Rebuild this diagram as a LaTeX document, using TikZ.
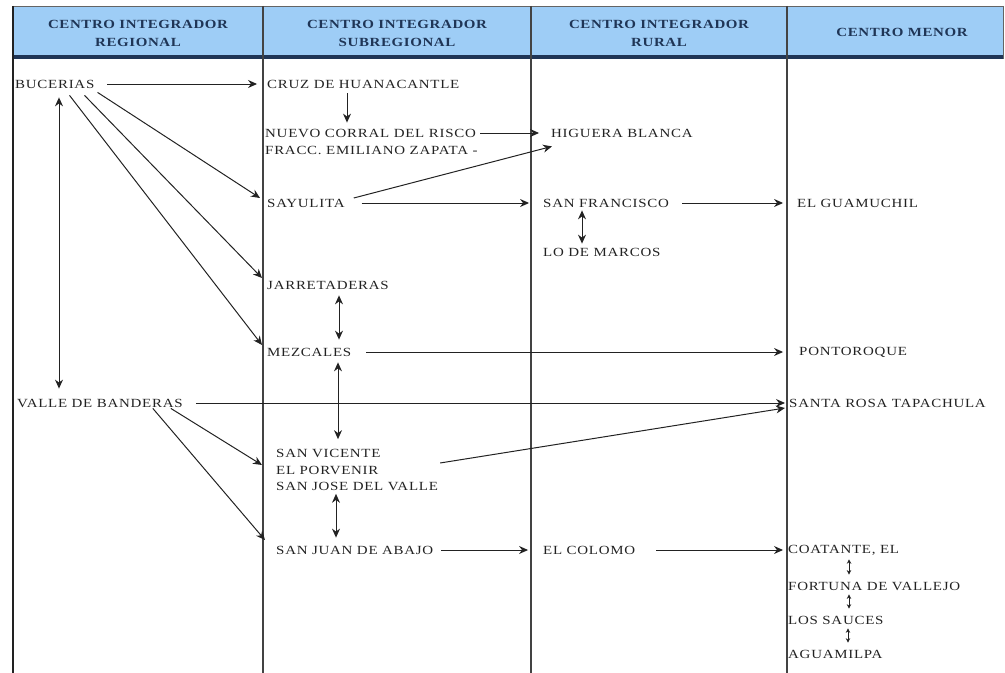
\documentclass[tikz,border=0pt]{standalone}
\usepackage{fontspec}
\setmainfont{Liberation Serif}
\newfontfamily\placefont[FakeStretch=1.2,LetterSpace=6]{Liberation Serif}
\newfontfamily\headfont[FakeStretch=1.2,LetterSpace=5]{Liberation Serif}
\usetikzlibrary{arrows.meta,calc}
\definecolor{hdrblue}{HTML}{9ECDF6}
\definecolor{navy}{HTML}{1F3556}
\definecolor{ink}{HTML}{222222}
\tikzset{
  lab/.style={text=ink, anchor=west, inner sep=1pt, align=left, font=\placefont\fontsize{12.5}{16.5}\selectfont},
  toplab/.style={text=navy, align=center, font=\headfont\bfseries\fontsize{12.5}{18}\selectfont},
  flow/.style={-{Stealth[length=9pt,width=8pt]}, ink, line width=1pt},
  twoway/.style={{Stealth[length=9pt,width=8pt]}-{Stealth[length=9pt,width=8pt]}, ink, line width=1pt},
  smallway/.style={{Stealth[length=4.5pt,width=4.5pt]}-{Stealth[length=4.5pt,width=4.5pt]}, ink, line width=0.9pt},
  colline/.style={draw=ink!85, line width=1.4pt},
}

\begin{document}
\begin{tikzpicture}[x=1bp,y=-1bp]
  \useasboundingbox (0,0) rectangle (1005,673);

  % header band
  \fill[hdrblue] (13,6) rectangle (1003,55);
  \fill[navy] (13,55) rectangle (1003,59);
  \draw[ink!70, line width=0.8pt] (13,6) -- (1003,6) -- (1003,59);
  \draw[ink, line width=2.2pt] (13,6) -- (13,673);
  \foreach \cx in {263,531,787}{
    \draw[colline] (\cx,6) -- (\cx,673);
  }
  \node[toplab] (h1) at (138,33) {CENTRO INTEGRADOR\\REGIONAL};
  \node[toplab] (h2) at (397,33) {CENTRO INTEGRADOR\\SUBREGIONAL};
  \node[toplab] (h3) at (659,33) {CENTRO INTEGRADOR\\RURAL};
  \node[toplab] (h4) at (902,32) {CENTRO MENOR};

  % places
  \node[lab] (buc) at (14,84) {BUCERIAS};
  \node[lab] (valle) at (16,403) {VALLE DE BANDERAS};
  \node[lab] (cruz) at (266,84) {CRUZ DE HUANACANTLE};
  \node[lab] (nuevo) at (264,133) {NUEVO CORRAL DEL RISCO};
  \node[lab] (fracc) at (264,150) {FRACC. EMILIANO ZAPATA -};
  \node[lab] (say) at (266,203) {SAYULITA};
  \node[lab] (jarr) at (266,285) {JARRETADERAS};
  \node[lab] (mez) at (266,352) {MEZCALES};
  \node[lab] (sanv) at (275,470) {SAN VICENTE\\EL PORVENIR\\SAN JOSE DEL VALLE};
  \node[lab] (sanj) at (275,550) {SAN JUAN DE ABAJO};
  \node[lab] (hig) at (550,133) {HIGUERA BLANCA};
  \node[lab] (sanf) at (542,203) {SAN FRANCISCO};
  \node[lab] (lodm) at (542,252) {LO DE MARCOS};
  \node[lab] (colomo) at (542,550) {EL COLOMO};
  \node[lab] (guam) at (796,203) {EL GUAMUCHIL};
  \node[lab] (pont) at (798,352) {PONTOROQUE};
  \node[lab] (santa) at (788,403) {SANTA ROSA TAPACHULA};
  \node[lab] (coat) at (787,550) {COATANTE, EL};
  \node[lab] (fort) at (787,586) {FORTUNA DE VALLEJO};
  \node[lab] (sauc) at (787,620) {LOS SAUCES};
  \node[lab] (agua) at (787,654) {AGUAMILPA};

  % links from Bucerias
  \draw[flow, shorten <=12pt, shorten >=9pt] (buc.east) -- (cruz.west);
  \draw[flow] ($(buc.south east)+(2,3)$) -- ($(say.west)+(-6,-5)$);
  \draw[flow] ($(buc.south east)+(-11,6)$) -- ($(jarr.west)+(-4,-7)$);
  \draw[flow] ($(buc.south east)+(-26,6)$) -- ($(mez.west)+(-4,-7)$);
  \draw[twoway] ($(buc.south west)+(45,8)$) -- ($(valle.north west)+(43,-9)$);

  % subregional column
  \draw[flow] ($(cruz.south west)+(81,4)$) -- ($(nuevo.north west)+(83,-5)$);
  \draw[flow, shorten <=3pt, shorten >=11pt] (nuevo.east) -- (hig.west);
  \draw[flow] ($(say.east)+(8,-5)$) -- ($(hig.south west)+(2,8)$);
  \draw[flow, shorten <=16pt, shorten >=13pt] (say.east) -- (sanf.west);
  \draw[twoway] ($(sanf.south west)+(40,2)$) -- ($(lodm.north west)+(40,-3)$);
  \draw[flow, shorten <=12pt, shorten >=13pt] (sanf.east) -- (guam.west);
  \draw[twoway] ($(jarr.south west)+(73,5)$) -- ($(mez.north west)+(73,-7)$);
  \draw[flow, shorten <=14pt, shorten >=15pt] (mez.east) -- (pont.west);
  \draw[twoway] ($(mez.south west)+(72,5)$) -- ($(sanv.north west)+(63,-9)$);

  % links from Valle de Banderas
  \draw[flow, shorten <=12pt, shorten >=3pt] (valle.east) -- (santa.west);
  \draw[flow] ($(sanv.east)+(1,-7)$) -- ($(santa.west)+(-3,5)$);
  \draw[flow] ($(valle.south east)+(-13,0)$) -- ($(sanv.west)+(-13,-5)$);
  \draw[flow] ($(valle.south east)+(-31,0)$) -- ($(sanj.west)+(-10,-10)$);
  \draw[twoway] ($(sanv.south west)+(61,2)$) -- ($(sanj.north west)+(61,-7)$);
  \draw[flow, shorten <=7pt, shorten >=14pt] (sanj.east) -- (colomo.west);
  \draw[flow, shorten <=20pt, shorten >=4pt] (colomo.east) -- (coat.west);

  % centro menor chain
  \draw[smallway] ($(coat.south west)+(62,3)$) -- ($(fort.north west)+(62,-6)$);
  \draw[smallway] ($(fort.south west)+(62,3)$) -- ($(sauc.north west)+(62,-6)$);
  \draw[smallway] ($(sauc.south west)+(61,3)$) -- ($(agua.north west)+(61,-6)$);
\end{tikzpicture}
\end{document}
